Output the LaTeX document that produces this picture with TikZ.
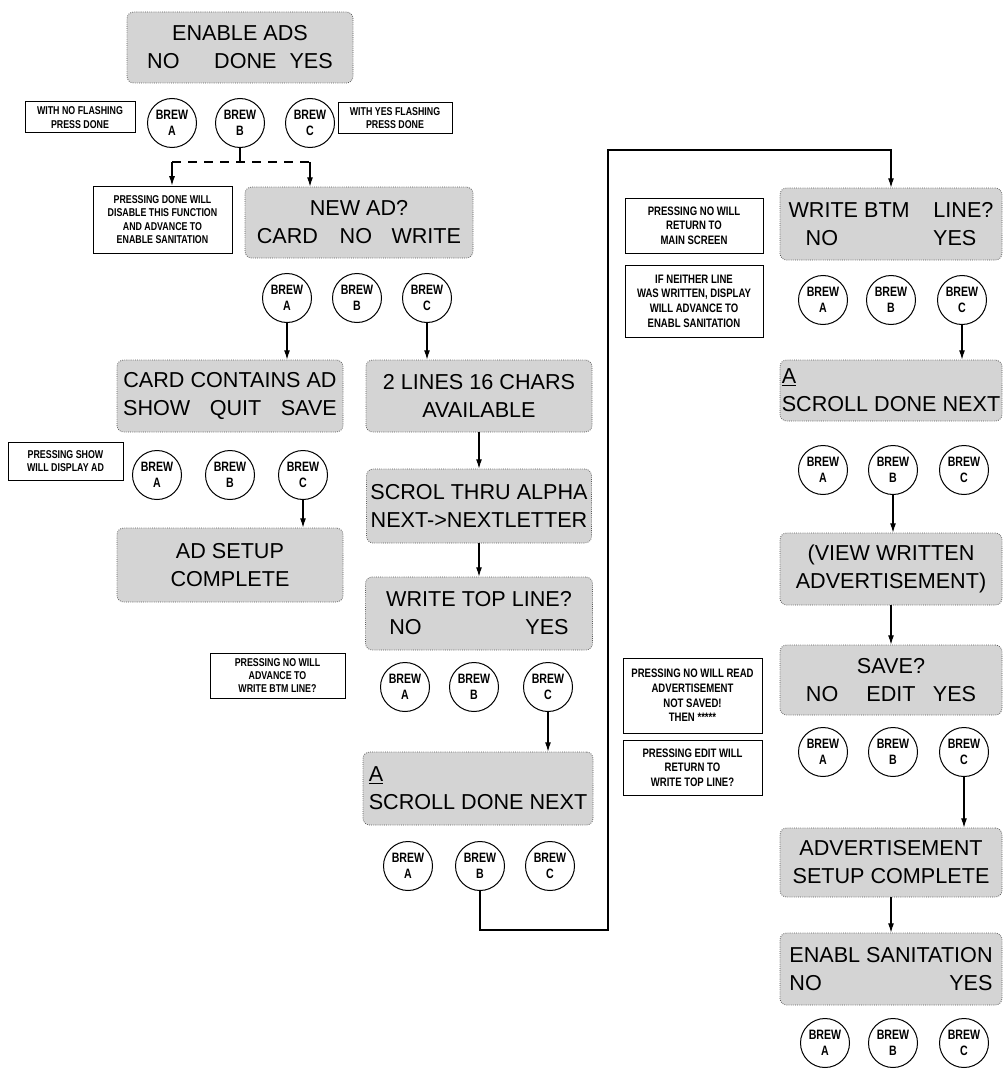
\documentclass[tikz,border=0pt]{standalone}
\usepackage{fontspec}
\setmainfont{Liberation Sans}
\newfontfamily\narrowfont[FakeStretch=0.78]{Liberation Sans}
\usetikzlibrary{arrows.meta}
\begin{document}
\begin{tikzpicture}[x=0.75pt,y=-0.75pt,
  sz/.style 2 args={minimum width=#1*0.75pt, minimum height=#2*0.75pt},
  disp/.style={draw=black!65, densely dotted, line width=0.6pt, fill=black!17, rounded corners=5pt, align=center, inner sep=1pt, font=\fontsize{16.2}{21}\selectfont},
  brew/.style={circle, draw, solid, line width=0.75pt, fill=white, minimum size=36.75pt, inner sep=0pt, align=center, font=\narrowfont\bfseries\fontsize{10.2}{12}\selectfont},
  note/.style={rectangle, draw, line width=0.75pt, fill=white, align=center, inner sep=1pt, font=\narrowfont\bfseries\fontsize{8.5}{10}\selectfont},
  bignote/.style={note, font=\narrowfont\bfseries\fontsize{9.2}{11}\selectfont},
  arr/.style={line width=0.8pt, -{Latex[length=7pt,width=4.5pt]}},
  conn/.style={line width=0.8pt}]
\useasboundingbox (0,0) rectangle (1005,1070);

% ---------- left column ----------
\node[disp, sz={226}{71}] (d1) at (240,47.5) {ENABLE ADS\\NO\hspace{1.6em}DONE\hspace{0.6em}YES};
\node[brew] (c1a) at (172,123) {BREW\\A};
\node[brew] (c1b) at (240,123) {BREW\\B};
\node[brew] (c1c) at (310,123) {BREW\\C};
\node[note, sz={110}{31}] (n1) at (80,117.5) {WITH NO FLASHING\\PRESS DONE};
\node[note, sz={114}{31}] (n2) at (395,118) {WITH YES FLASHING\\PRESS DONE};

\node[note, sz={139}{67}] (n3) at (162.5,219.5) {PRESSING DONE WILL\\DISABLE THIS FUNCTION\\AND ADVANCE TO\\ENABLE SANITATION};
\node[disp, sz={228}{71}] (d2) at (359,222.5) {NEW AD?\\CARD\hspace{1em}NO\hspace{0.9em}WRITE};

\coordinate (sp) at (240,162);
\draw[conn] (c1b.south) -- (sp);
\draw[conn, dashed, dash pattern=on 7pt off 5pt] (c1a |- sp) -- (c1c |- sp);
\draw[arr] (c1a |- sp) -- (c1a |- n3.north);
\draw[arr] (c1c |- sp) -- (c1c |- d2.north);

\node[brew] (c2a) at (287,298) {BREW\\A};
\node[brew] (c2b) at (357,298) {BREW\\B};
\node[brew] (c2c) at (427,298) {BREW\\C};

\node[disp, sz={226}{72}] (d3) at (230,396) {CARD CONTAINS AD\\SHOW\hspace{0.9em}QUIT\hspace{0.9em}SAVE};
\node[disp, sz={226}{72}] (d5) at (479,396) {2 LINES 16 CHARS\\AVAILABLE};
\draw[arr] (c2a.south) -- (c2a |- d3.north);
\draw[arr] (c2c.south) -- (c2c |- d5.north);

\node[note, sz={115}{38}] (n4) at (65.5,461) {PRESSING SHOW\\WILL DISPLAY AD};
\node[brew] (c3a) at (157,475) {BREW\\A};
\node[brew] (c3b) at (230,475) {BREW\\B};
\node[brew] (c3c) at (303,475) {BREW\\C};
\node[disp, sz={226}{74}] (d4) at (230,565) {AD SETUP\\COMPLETE};
\draw[arr] (c3c.south) -- (c3c |- d4.north);

\node[note, sz={135}{45}] (n5) at (277.5,675.5) {PRESSING NO WILL\\ADVANCE TO\\WRITE BTM LINE?};

% ---------- middle column ----------
\node[disp, sz={225}{74}] (d6) at (479,506) {SCROL THRU ALPHA\\NEXT->NEXTLETTER};
\node[disp, sz={227}{73}] (d7) at (479,613.5) {WRITE TOP LINE?\\NO\hspace{4.8em}YES};
\draw[arr] (d5.south) -- (d6.north);
\draw[arr] (d6.south) -- (d7.north);

\node[brew] (c4a) at (405,687) {BREW\\A};
\node[brew] (c4b) at (474,687) {BREW\\B};
\node[brew] (c4c) at (548,687) {BREW\\C};
\node[disp, sz={230}{73}, align=left] (d8) at (478,788.5) {\underline{A}\\SCROLL DONE NEXT};
\draw[arr] (c4c.south) -- (c4c |- d8.north);

\node[brew] (c5a) at (408,866) {BREW\\A};
\node[brew] (c5b) at (480,866) {BREW\\B};
\node[brew] (c5c) at (550,866) {BREW\\C};

% ---------- right column ----------
\node[bignote, sz={138}{55}] (n6) at (694,225.5) {PRESSING NO WILL\\RETURN TO\\MAIN SCREEN};
\node[bignote, sz={138}{72}] (n7) at (694,301) {IF NEITHER LINE\\WAS WRITTEN, DISPLAY\\WILL ADVANCE TO\\ENABL SANITATION};

\node[disp, sz={222}{72}] (d9) at (891,224) {WRITE BTM\hspace{1.1em}LINE?\\NO\hspace{4.4em}YES};

\coordinate (t1) at (608,930);
\coordinate (t2) at (608,150);
\draw[arr] (c5b.south) |- (t1) -- (t2) -| (d9.north);

\node[brew] (c6a) at (823,300) {BREW\\A};
\node[brew] (c6b) at (891,300) {BREW\\B};
\node[brew] (c6c) at (962,300) {BREW\\C};
\node[disp, sz={222}{61}, align=left] (d10) at (891,390.5) {\underline{A}\\SCROLL DONE NEXT};
\draw[arr] (c6c.south) -- (c6c |- d10.north);

\node[brew] (c7a) at (823,470) {BREW\\A};
\node[brew] (c7b) at (893,470) {BREW\\B};
\node[brew] (c7c) at (964,470) {BREW\\C};
\node[disp, sz={222}{72}] (d11) at (891,569) {(VIEW WRITTEN\\ADVERTISEMENT)};
\draw[arr] (c7b.south) -- (c7b |- d11.north);

\node[disp, sz={222}{70}] (d12) at (891,680) {SAVE?\\NO\hspace{1.3em}EDIT\hspace{0.8em}YES};
\draw[arr] (d11.south) -- (d12.north);

\node[bignote, sz={139}{75}] (n8) at (692.5,695.5) {PRESSING NO WILL READ\\ADVERTISEMENT\\NOT SAVED!\\THEN *****};
\node[bignote, sz={139}{55}] (n9) at (692.5,767.5) {PRESSING EDIT WILL\\RETURN TO\\WRITE TOP LINE?};

\node[brew] (c8a) at (823,752) {BREW\\A};
\node[brew] (c8b) at (893,752) {BREW\\B};
\node[brew] (c8c) at (964,752) {BREW\\C};
\node[disp, sz={222}{69}] (d13) at (891,862.5) {ADVERTISEMENT\\SETUP COMPLETE};
\draw[arr] (c8c.south) -- (c8c |- d13.north);

\node[disp, sz={222}{72}] (d14) at (891,969) {ENABL SANITATION\\NO\hspace{5.9em}YES};
\draw[arr] (d13.south) -- (d14.north);

\node[brew] (c9a) at (825,1043) {BREW\\A};
\node[brew] (c9b) at (893,1043) {BREW\\B};
\node[brew] (c9c) at (964,1043) {BREW\\C};
\end{tikzpicture}
\end{document}
